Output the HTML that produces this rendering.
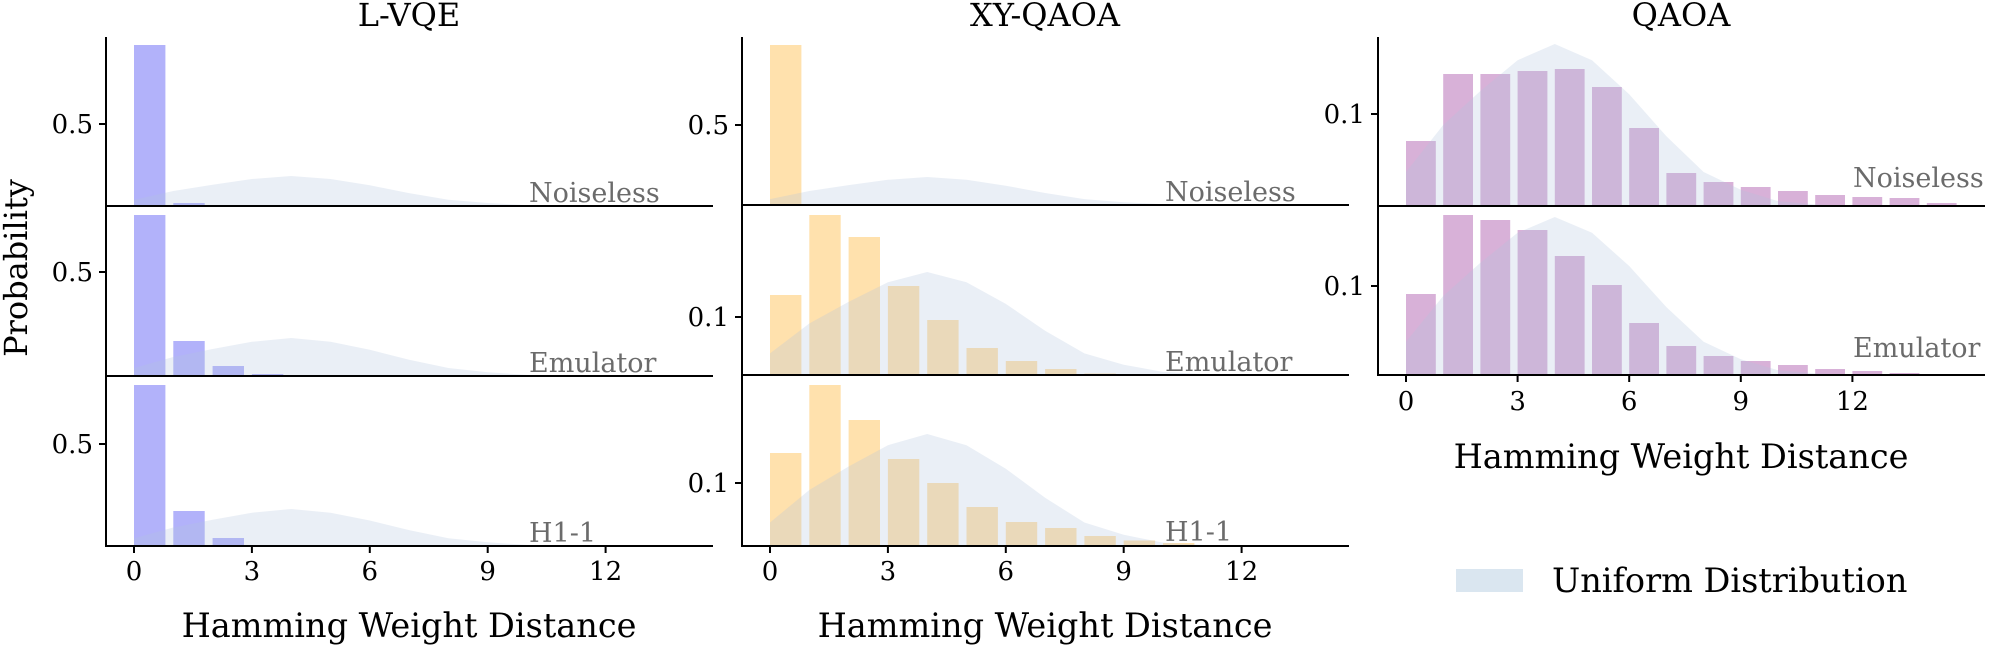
<!DOCTYPE html>
<html><head><meta charset="utf-8"><style>html,body{margin:0;padding:0;background:#fff}svg{display:block}</style></head>
<body>
<svg width="1998" height="645" viewBox="0 0 1998 645" xmlns="http://www.w3.org/2000/svg" font-family="DejaVu Serif, Liberation Serif, serif">
<rect width="1998" height="645" fill="#fff"/>
<g fill="#b2b2fa">
<rect x="134" y="45" width="31.4" height="161"/>
<rect x="173.3" y="203" width="31.4" height="3"/>
<rect x="134" y="215" width="31.4" height="161"/>
<rect x="173.3" y="341" width="31.4" height="35"/>
<rect x="212.6" y="366" width="31.4" height="10"/>
<rect x="251.9" y="374" width="31.4" height="2"/>
<rect x="134" y="385" width="31.4" height="161"/>
<rect x="173.3" y="511" width="31.4" height="35"/>
<rect x="212.6" y="538" width="31.4" height="8"/>
<rect x="251.9" y="545" width="31.4" height="1"/>
</g>
<g fill="#ffe1ad">
<rect x="770" y="45" width="31.4" height="160"/>
<rect x="770" y="295" width="31.4" height="80"/>
<rect x="809.3" y="215" width="31.4" height="160"/>
<rect x="848.6" y="237" width="31.4" height="138"/>
<rect x="887.9" y="286" width="31.4" height="89"/>
<rect x="927.2" y="320" width="31.4" height="55"/>
<rect x="966.5" y="348" width="31.4" height="27"/>
<rect x="1005.8" y="361" width="31.4" height="14"/>
<rect x="1045.1" y="369" width="31.4" height="6"/>
<rect x="1084.4" y="373.5" width="31.4" height="1.5"/>
<rect x="770" y="453" width="31.4" height="93"/>
<rect x="809.3" y="385" width="31.4" height="161"/>
<rect x="848.6" y="420" width="31.4" height="126"/>
<rect x="887.9" y="459" width="31.4" height="87"/>
<rect x="927.2" y="483" width="31.4" height="63"/>
<rect x="966.5" y="507" width="31.4" height="39"/>
<rect x="1005.8" y="522" width="31.4" height="24"/>
<rect x="1045.1" y="528" width="31.4" height="18"/>
<rect x="1084.4" y="536" width="31.4" height="10"/>
<rect x="1123.7" y="540.5" width="31.4" height="5.5"/>
<rect x="1163" y="543" width="31.4" height="3"/>
</g>
<g fill="#d8b1d8">
<rect x="1406" y="141" width="29.8" height="65"/>
<rect x="1443.2" y="74" width="29.8" height="132"/>
<rect x="1480.4" y="74" width="29.8" height="132"/>
<rect x="1517.6" y="71" width="29.8" height="135"/>
<rect x="1554.8" y="69" width="29.8" height="137"/>
<rect x="1592" y="87" width="29.8" height="119"/>
<rect x="1629.2" y="128" width="29.8" height="78"/>
<rect x="1666.4" y="173" width="29.8" height="33"/>
<rect x="1703.6" y="182" width="29.8" height="24"/>
<rect x="1740.8" y="187" width="29.8" height="19"/>
<rect x="1778" y="191" width="29.8" height="15"/>
<rect x="1815.2" y="195" width="29.8" height="11"/>
<rect x="1852.4" y="197" width="29.8" height="9"/>
<rect x="1889.6" y="198" width="29.8" height="8"/>
<rect x="1926.8" y="203" width="29.8" height="3"/>
<rect x="1406" y="294" width="29.8" height="81"/>
<rect x="1443.2" y="215" width="29.8" height="160"/>
<rect x="1480.4" y="220" width="29.8" height="155"/>
<rect x="1517.6" y="230" width="29.8" height="145"/>
<rect x="1554.8" y="256" width="29.8" height="119"/>
<rect x="1592" y="285" width="29.8" height="90"/>
<rect x="1629.2" y="323" width="29.8" height="52"/>
<rect x="1666.4" y="346" width="29.8" height="29"/>
<rect x="1703.6" y="356" width="29.8" height="19"/>
<rect x="1740.8" y="361" width="29.8" height="14"/>
<rect x="1778" y="365" width="29.8" height="10"/>
<rect x="1815.2" y="369" width="29.8" height="6"/>
<rect x="1852.4" y="371" width="29.8" height="4"/>
<rect x="1889.6" y="373" width="29.8" height="2"/>
</g>
<g fill="#b0c4de" fill-opacity="0.27">
<polygon points="134,206 134,199.7 173.3,191 212.6,184.7 251.9,179 291.2,176 330.5,179 369.8,185.3 409.1,193.1 448.4,199.7 487.7,203 527,205.1 566.3,205.7 605.6,206"/>
<polygon points="134,376 134,368 173.3,357 212.6,349 251.9,341.8 291.2,338 330.5,341.8 369.8,349.8 409.1,359.7 448.4,368 487.7,372.2 527,374.9 566.3,375.6 605.6,376"/>
<polygon points="134,546 134,538.2 173.3,527.5 212.6,519.7 251.9,512.7 291.2,509 330.5,512.7 369.8,520.5 409.1,530.1 448.4,538.2 487.7,542.3 527,544.9 566.3,545.6 605.6,546"/>
<polygon points="770,205 770,199.1 809.3,191 848.6,185.1 887.9,179.8 927.2,177 966.5,179.8 1005.8,185.7 1045.1,193 1084.4,199.1 1123.7,202.2 1163,204.2 1202.3,204.7 1241.6,205"/>
<polygon points="770,375 770,353.4 809.3,323.5 848.6,301.9 887.9,282.3 927.2,272 966.5,282.3 1005.8,303.9 1045.1,330.7 1084.4,353.4 1123.7,364.7 1163,371.9 1202.3,374 1241.6,375"/>
<polygon points="770,546 770,522.5 809.3,490 848.6,466.5 887.9,445.2 927.2,434 966.5,445.2 1005.8,468.7 1045.1,497.8 1084.4,522.5 1123.7,534.8 1163,542.6 1202.3,544.9 1241.6,546"/>
<polygon points="1406,206 1406,172 1443.2,125 1480.4,91 1517.6,60.2 1554.8,44 1592,60.2 1629.2,94.2 1666.4,136.3 1703.6,172 1740.8,189.8 1778,201.1 1815.2,204.4 1852.4,206"/>
<polygon points="1406,375 1406,341.8 1443.2,296 1480.4,262.8 1517.6,232.8 1554.8,217 1592,232.8 1629.2,266 1666.4,307.1 1703.6,341.8 1740.8,359.2 1778,370.3 1815.2,373.4 1852.4,375"/>
</g>
<g stroke="#000" stroke-width="2" fill="none">
<line x1="106" y1="37" x2="106" y2="547"/>
<line x1="105" y1="206" x2="713" y2="206"/>
<line x1="105" y1="376" x2="713" y2="376"/>
<line x1="105" y1="546" x2="713" y2="546"/>
<line x1="742" y1="37" x2="742" y2="547"/>
<line x1="741" y1="205" x2="1349" y2="205"/>
<line x1="741" y1="375" x2="1349" y2="375"/>
<line x1="741" y1="546" x2="1349" y2="546"/>
<line x1="1378" y1="37" x2="1378" y2="376"/>
<line x1="1377" y1="206" x2="1985" y2="206"/>
<line x1="1377" y1="375" x2="1985" y2="375"/>
<line x1="99" y1="124" x2="106" y2="124"/>
<line x1="99" y1="272" x2="106" y2="272"/>
<line x1="99" y1="444" x2="106" y2="444"/>
<line x1="735" y1="125" x2="742" y2="125"/>
<line x1="735" y1="317" x2="742" y2="317"/>
<line x1="735" y1="483" x2="742" y2="483"/>
<line x1="1371" y1="114" x2="1378" y2="114"/>
<line x1="1371" y1="286" x2="1378" y2="286"/>
<line x1="134" y1="546" x2="134" y2="553"/>
<line x1="251.9" y1="546" x2="251.9" y2="553"/>
<line x1="369.8" y1="546" x2="369.8" y2="553"/>
<line x1="487.7" y1="546" x2="487.7" y2="553"/>
<line x1="605.6" y1="546" x2="605.6" y2="553"/>
<line x1="770" y1="546" x2="770" y2="553"/>
<line x1="887.9" y1="546" x2="887.9" y2="553"/>
<line x1="1005.8" y1="546" x2="1005.8" y2="553"/>
<line x1="1123.7" y1="546" x2="1123.7" y2="553"/>
<line x1="1241.6" y1="546" x2="1241.6" y2="553"/>
<line x1="1406" y1="375" x2="1406" y2="382"/>
<line x1="1517.6" y1="375" x2="1517.6" y2="382"/>
<line x1="1629.2" y1="375" x2="1629.2" y2="382"/>
<line x1="1740.8" y1="375" x2="1740.8" y2="382"/>
<line x1="1852.4" y1="375" x2="1852.4" y2="382"/>
</g>
<g font-size="26" fill="#000">
<g text-anchor="end">
<text x="93" y="133">0.5</text>
<text x="93" y="281">0.5</text>
<text x="93" y="453">0.5</text>
<text x="729" y="134">0.5</text>
<text x="729" y="326">0.1</text>
<text x="729" y="492">0.1</text>
<text x="1365" y="123">0.1</text>
<text x="1365" y="295">0.1</text>
</g>
<g text-anchor="middle">
<text x="134" y="580">0</text><text x="251.9" y="580">3</text><text x="369.8" y="580">6</text><text x="487.7" y="580">9</text><text x="605.6" y="580">12</text>
<text x="770" y="580">0</text><text x="887.9" y="580">3</text><text x="1005.8" y="580">6</text><text x="1123.7" y="580">9</text><text x="1241.6" y="580">12</text>
<text x="1406" y="410">0</text><text x="1517.6" y="410">3</text><text x="1629.2" y="410">6</text><text x="1740.8" y="410">9</text><text x="1852.4" y="410">12</text>
</g>
</g>
<g font-size="27" fill="#6b6b6b">
<text x="529" y="202">Noiseless</text>
<text x="529" y="372">Emulator</text>
<text x="529" y="542">H1-1</text>
<text x="1165" y="201">Noiseless</text>
<text x="1165" y="371">Emulator</text>
<text x="1165" y="541">H1-1</text>
<text x="1853" y="187">Noiseless</text>
<text x="1853" y="357">Emulator</text>
</g>
<g font-size="32" fill="#000" text-anchor="middle">
<text x="409" y="26">L-VQE</text>
<text x="1045" y="26">XY-QAOA</text>
<text x="1681" y="26">QAOA</text>
<text transform="translate(27,268) rotate(-90)" x="0" y="0">Probability</text>
</g>
<g font-size="33.5" fill="#000" text-anchor="middle">
<text x="409" y="637">Hamming Weight Distance</text>
<text x="1045" y="637">Hamming Weight Distance</text>
<text x="1681" y="468">Hamming Weight Distance</text>
</g>
<rect x="1456" y="569" width="67" height="23" fill="#dae6f0"/>
<text x="1552" y="592" font-size="33.5" fill="#000">Uniform Distribution</text>
</svg>
</body></html>
